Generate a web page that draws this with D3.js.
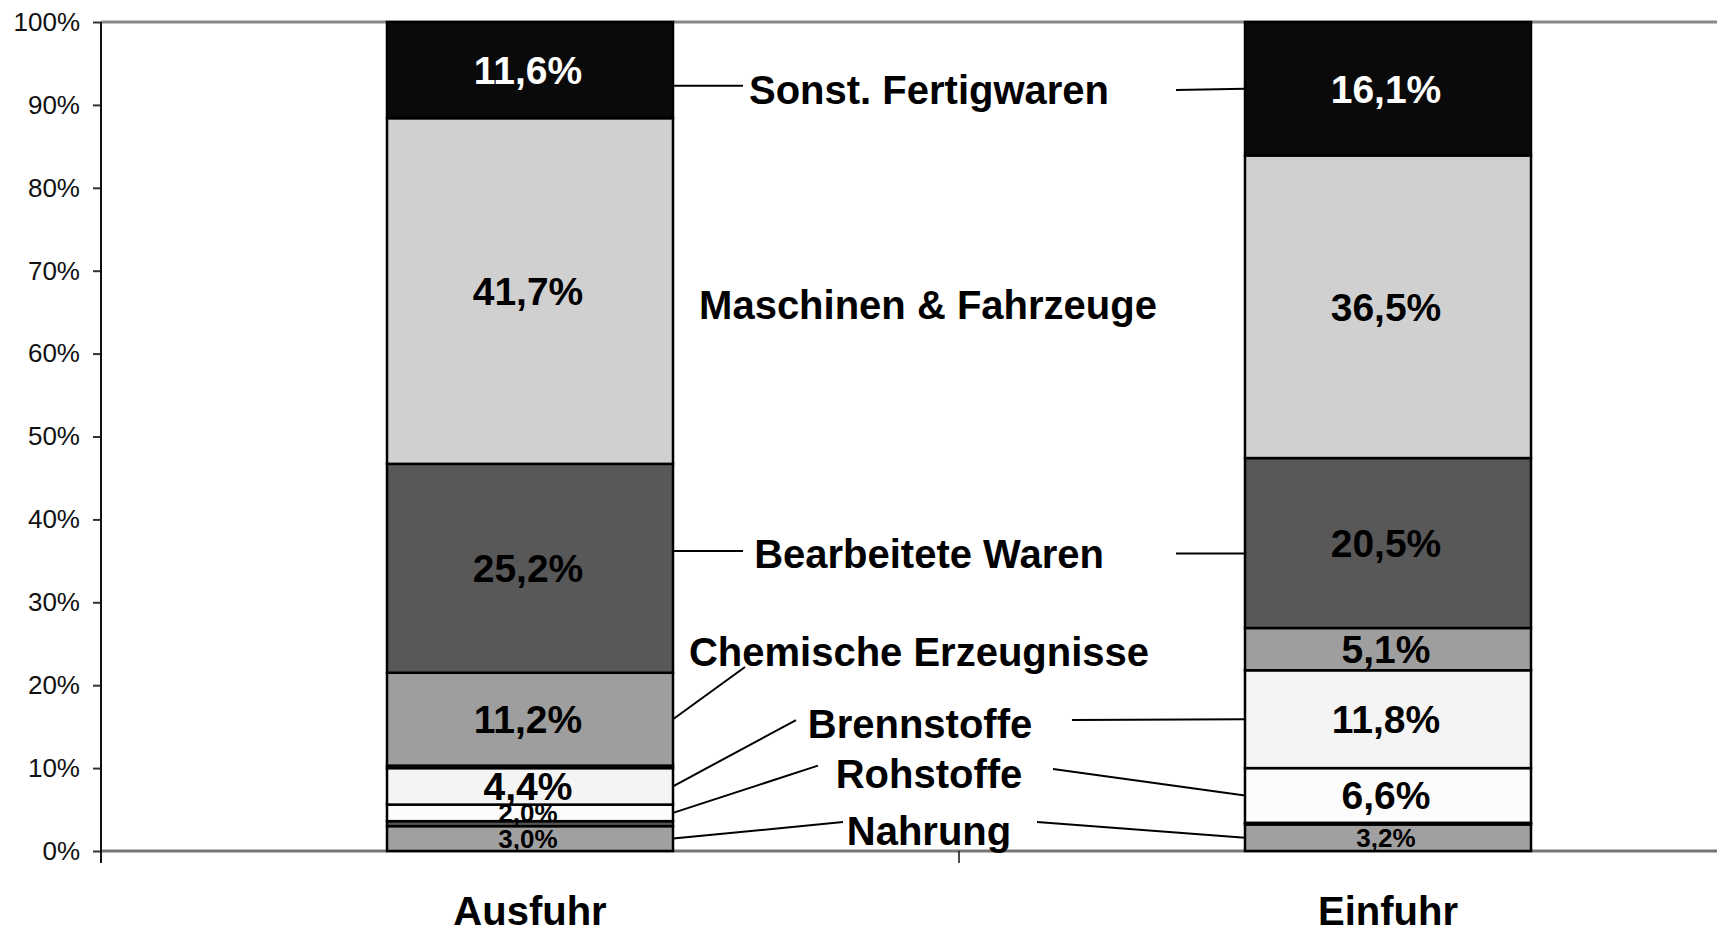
<!DOCTYPE html>
<html>
<head>
<meta charset="utf-8">
<script src="https://cdn.jsdelivr.net/npm/d3@7"></script>
<style>
  body { margin: 0; background: #fff; }
  svg { display: block; font-family: "Liberation Sans", Arial, sans-serif; }
</style>
</head>
<body>
<svg id="chart" width="1724" height="932"></svg>
<script>
// categories (bars) and product groups, bottom to top
var categories = ["Ausfuhr", "Einfuhr"];
var groups = ["Nahrung", "Getränke", "Rohstoffe", "Brennstoffe", "Öle", "Chemische Erzeugnisse",
              "Bearbeitete Waren", "Maschinen & Fahrzeuge", "Sonst. Fertigwaren"];
// shares in percent, same order as groups
var ausfuhr = [3.0, 0.6, 2.0, 4.4, 0.3, 11.2, 25.2, 41.7, 11.6];
var einfuhr = [3.2, 0.2, 6.6, 11.8, 0.0, 5.1, 20.5, 36.5, 16.1];
var yTicks = [0, 10, 20, 30, 40, 50, 60, 70, 80, 90, 100];
// which segments carry a value label
var labelled = [true, false, true, true, false, true, true, true, true];

var fills = ["#a0a0a0", "#555555", "#fcfcfc", "#f4f4f4", "#111111", "#9e9e9e", "#585858", "#d0d0d0", "#0a0a0a"];

// annotation texts in the middle, position: x px, y in %
var notes = [
  {text: "Sonst. Fertigwaren", x: 929, y: 91.9},
  {text: "Maschinen & Fahrzeuge", x: 928, y: 65.9},
  {text: "Bearbeitete Waren", x: 929, y: 35.9},
  {text: "Chemische Erzeugnisse", x: 919, y: 24.0},
  {text: "Brennstoffe", x: 920, y: 15.4},
  {text: "Rohstoffe", x: 929, y: 9.3},
  {text: "Nahrung", x: 929, y: 2.5}
];
// leader lines: bar, group index, free end (px, %), bar end y in % (null = segment centre)
var leaders = [
  {bar: "Ausfuhr", g: 8, ex: 743, ey: 92.3, by: 92.3},
  {bar: "Ausfuhr", g: 6, ex: 743, ey: 36.2, by: 36.2},
  {bar: "Ausfuhr", g: 5, ex: 745, ey: 22.2, by: null},
  {bar: "Ausfuhr", g: 3, ex: 796, ey: 15.8, by: null},
  {bar: "Ausfuhr", g: 2, ex: 818, ey: 10.3, by: null},
  {bar: "Ausfuhr", g: 0, ex: 843, ey: 3.5, by: null},
  {bar: "Einfuhr", g: 8, ex: 1176, ey: 91.8, by: null},
  {bar: "Einfuhr", g: 6, ex: 1176, ey: 35.9, by: 35.9},
  {bar: "Einfuhr", g: 3, ex: 1072, ey: 15.8, by: null},
  {bar: "Einfuhr", g: 2, ex: 1053, ey: 9.9, by: null},
  {bar: "Einfuhr", g: 0, ex: 1037, ey: 3.5, by: null}
];

var svg = d3.select("#chart");
var plot = {left: 101, top: 22, bottom: 851, right: 1717};

var x = d3.scaleBand().domain(categories).range([plot.left, 1817])
    .paddingInner(2/3).paddingOuter(1/3);
var y = d3.scaleLinear().domain([0, 100]).range([plot.bottom, plot.top]);

var table = categories.map(function(c, i) {
    var row = {category: c};
    var vals = i === 0 ? ausfuhr : einfuhr;
    groups.forEach(function(g, j) { row[g] = vals[j]; });
    return row;
});
var series = d3.stack().keys(groups)(table);

function comma(v) { return d3.format(".1f")(v).replace(".", ",") + "%"; }

// frame lines at 0% and 100%
svg.append("line")
    .attr("x1", plot.left).attr("x2", plot.right)
    .attr("y1", y(100)).attr("y2", y(100))
    .attr("stroke", "#888").attr("stroke-width", 3);
svg.append("line")
    .attr("x1", plot.left).attr("x2", plot.right)
    .attr("y1", y(0)).attr("y2", y(0))
    .attr("stroke", "#777").attr("stroke-width", 3);

// y axis
var yAxis = svg.append("g")
    .attr("transform", "translate(" + plot.left + ",0)")
    .call(d3.axisLeft(y).tickValues(yTicks).tickSize(8).tickPadding(13)
          .tickFormat(function(d) { return d + "%"; }));
yAxis.select(".domain").remove();
yAxis.selectAll(".tick line").attr("stroke", "#333").attr("stroke-width", 2);
yAxis.selectAll("text").attr("font-size", 26).attr("fill", "#111")
    .attr("font-family", "'Liberation Sans', Arial, sans-serif");
svg.append("line")
    .attr("x1", plot.left).attr("x2", plot.left)
    .attr("y1", plot.top).attr("y2", plot.bottom + 12)
    .attr("stroke", "#111").attr("stroke-width", 2);

// x axis category ticks
svg.selectAll(".xtick")
    .data([plot.left, plot.left + x.step()])
    .enter().append("line")
    .attr("class", "xtick")
    .attr("x1", function(d) { return d; }).attr("x2", function(d) { return d; })
    .attr("y1", plot.bottom).attr("y2", plot.bottom + 12)
    .attr("stroke", "#111").attr("stroke-width", 1.5);

svg.selectAll(".cat")
    .data(categories)
    .enter().append("text")
    .attr("class", "cat")
    .attr("x", function(d) { return x(d) + x.bandwidth() / 2; })
    .attr("y", 925)
    .attr("text-anchor", "middle")
    .attr("font-size", 40).attr("font-weight", "bold")
    .text(function(d) { return d; });

// stacked bars
var layer = svg.selectAll(".layer")
    .data(series)
    .enter().append("g")
    .attr("class", "layer")
    .attr("fill", function(d, i) { return fills[i]; });

layer.selectAll("rect")
    .data(function(d) { return d; })
    .enter().append("rect")
    .attr("x", function(d) { return x(d.data.category); })
    .attr("width", x.bandwidth())
    .attr("y", function(d) { return y(d[1]); })
    .attr("height", function(d) { return y(d[0]) - y(d[1]); })
    .attr("stroke", "#000").attr("stroke-width", 2.5);

// value labels
series.forEach(function(s, i) {
    if (!labelled[i]) return;
    svg.selectAll(".val" + i)
        .data(s)
        .enter().append("text")
        .attr("x", function(d) { return x(d.data.category) + x.bandwidth() / 2 - 2; })
        .attr("y", function(d) { return y((d[0] + d[1]) / 2); })
        .attr("dy", "0.36em")
        .attr("text-anchor", "middle")
        .attr("font-weight", "bold")
        .attr("font-size", function(d) { return d[1] - d[0] < 3.5 ? 26 : 39; })
        .attr("fill", i === 8 ? "#fff" : "#000")
        .text(function(d) { return comma(d[1] - d[0]); });
});

// leader lines
svg.selectAll(".leader")
    .data(leaders)
    .enter().append("line")
    .attr("class", "leader")
    .attr("x1", function(d) {
        return d.bar === "Ausfuhr" ? x(d.bar) + x.bandwidth() : x(d.bar);
    })
    .attr("y1", function(d) {
        if (d.by !== null) return y(d.by);
        var seg = series[d.g][categories.indexOf(d.bar)];
        return y((seg[0] + seg[1]) / 2);
    })
    .attr("x2", function(d) { return d.ex; })
    .attr("y2", function(d) { return y(d.ey); })
    .attr("stroke", "#000").attr("stroke-width", 2);

// annotation texts
svg.selectAll(".note")
    .data(notes)
    .enter().append("text")
    .attr("class", "note")
    .attr("x", function(d) { return d.x; })
    .attr("y", function(d) { return y(d.y); })
    .attr("dy", "0.36em")
    .attr("text-anchor", "middle")
    .attr("font-size", 40).attr("font-weight", "bold")
    .text(function(d) { return d.text; });
</script>
</body>
</html>
